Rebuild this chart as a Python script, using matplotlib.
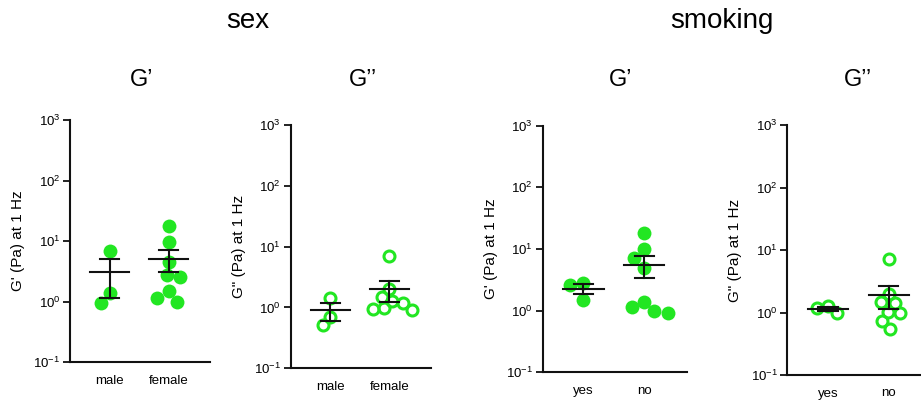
import numpy as np
import matplotlib
matplotlib.use("Agg")
import matplotlib.pyplot as plt
from matplotlib.ticker import FixedLocator, FuncFormatter, NullLocator

plt.rcParams['font.family'] = ['Liberation Sans', 'DejaVu Sans']
plt.rcParams['mathtext.fontset'] = 'custom'
plt.rcParams['mathtext.rm'] = 'Liberation Sans'
plt.rcParams['mathtext.it'] = 'Liberation Sans:italic'
plt.rcParams['mathtext.bf'] = 'Liberation Sans:bold'

# ---- data ----
group_titles = ["sex", "smoking"]
panel_titles = ["G\u2019", "G\u2019\u2019", "G\u2019", "G\u2019\u2019"]
ylabels = ["G' (Pa) at 1 Hz", 'G" (Pa) at 1 Hz', "G' (Pa) at 1 Hz", 'G" (Pa) at 1 Hz']
sex_categories = ["male", "female"]
smoking_categories = ["yes", "no"]
ytick_exponents = [-1, 0, 1, 2, 3]

sex_male_Gp = [0.93, 6.9, 1.4]
sex_female_Gp = [17.9, 9.7, 4.55, 2.74, 2.51, 1.51, 1.0, 1.14]
sex_male_Gpp = [1.45, 0.52, 0.71]
sex_female_Gpp = [7.1, 1.99, 1.47, 1.29, 1.17, 0.97, 0.95, 0.91]
smoke_yes_Gp = [2.8, 1.49, 2.57]
smoke_no_Gp = [18.4, 10.0, 7.1, 4.86, 1.40, 0.93, 1.0, 1.13]
smoke_yes_Gpp = [0.99, 1.27, 1.17]
smoke_no_Gpp = [7.1, 1.95, 1.46, 1.40, 1.02, 0.97, 0.72, 0.54]

panels = [
    (sex_categories, [sex_male_Gp, sex_female_Gp], True),
    (sex_categories, [sex_male_Gpp, sex_female_Gpp], False),
    (smoking_categories, [smoke_yes_Gp, smoke_no_Gp], True),
    (smoking_categories, [smoke_yes_Gpp, smoke_no_Gpp], False),
]

# ---- layout (pixels, top-left origin) ----
W, H = 921, 407
boxes = [(70, 210, 120, 362), (290.7, 430.7, 125, 368.3),
         (542.7, 686.7, 125.7, 372.3), (787.3, 931, 125, 375)]
panel_title_x = [142, 363, 621, 858]
green = '#22e622'
dark = '#111111'

fig = plt.figure(figsize=(W / 100, H / 100), dpi=100)

fig.text(248 / W, 1 - 21 / H, group_titles[0], ha='center', va='center', fontsize=20)
fig.text(722 / W, 1 - 21 / H, group_titles[1], ha='center', va='center', fontsize=20)


def swarm_offsets(ax, center, vals, d_px):
    vals = np.asarray(vals, float)
    pts = ax.transData.transform(np.column_stack([np.full(len(vals), center), vals]))
    ys = pts[:, 1]
    ppu = ax.transData.transform((1, 1))[0] - ax.transData.transform((0, 1))[0]
    order = np.argsort(-ys)
    placed = []  # (x_px, y_px)
    xs = np.zeros(len(vals))
    for i in order:
        y = ys[i]
        cands = [0.0]
        for (xj, yj) in placed:
            dy = abs(y - yj)
            if dy < d_px:
                dx = np.sqrt(d_px ** 2 - dy ** 2)
                cands += [xj - dx, xj + dx]
        cands = sorted(set(cands), key=lambda c: (abs(c), c))
        chosen = cands[-1]
        for c in cands:
            ok = all((c - xj) ** 2 + (y - yj) ** 2 >= d_px ** 2 - 1e-6 for (xj, yj) in placed)
            if ok:
                chosen = c
                break
        placed.append((chosen, y))
        xs[i] = chosen / ppu
    return center + xs


for k, ((cats, groups, filled), (l, r, t, b)) in enumerate(zip(panels, boxes)):
    ax = fig.add_axes([l / W, 1 - b / H, (r - l) / W, (b - t) / H])
    ax.set_yscale('log')
    ax.set_ylim(0.1, 1000)
    ax.set_xlim(-0.671, 1.699)
    for s in ['top', 'right']:
        ax.spines[s].set_visible(False)
    for s in ['left', 'bottom']:
        ax.spines[s].set_linewidth(1.5)
        ax.spines[s].set_color(dark)
    ax.yaxis.set_major_locator(FixedLocator([10.0 ** e for e in ytick_exponents]))
    ax.yaxis.set_minor_locator(NullLocator())
    ax.yaxis.set_major_formatter(FuncFormatter(
        lambda v, p: r'$\mathregular{10^{%d}}$' % int(round(np.log10(v)))))
    ax.tick_params(axis='y', length=5, width=1.3, color=dark, labelsize=9.5, pad=2)
    ax.set_xticks(range(len(cats)))
    ax.set_xticklabels(cats)
    ax.tick_params(axis='x', length=0, labelsize=9.5, pad=9)
    ax.set_ylabel(ylabels[k], fontsize=11)
    ax.yaxis.set_label_coords(-45 / (r - l), 0.5)

    fig.text(panel_title_x[k] / W, 1 - 80 / H, panel_titles[k], ha='center', va='center', fontsize=17)

    for ci, vals in enumerate(groups):
        if filled:
            xs = swarm_offsets(ax, ci, vals, 13.5)
            ax.plot(xs, vals, 'o', ms=10, mfc=green, mec=green, mew=0, zorder=2, clip_on=False)
        else:
            xs = swarm_offsets(ax, ci, vals, 11.0)
            ax.plot(xs, vals, 'o', ms=7.9, mfc='none', mec=green, mew=2.2, zorder=2, clip_on=False)
        v = np.asarray(vals)
        m = v.mean()
        sem = v.std(ddof=1) / np.sqrt(len(v))
        lw = 1.5
        ax.plot([ci - 0.33, ci + 0.33], [m, m], color=dark, lw=lw, zorder=3)
        ax.plot([ci, ci], [m - sem, m + sem], color=dark, lw=lw, zorder=3)
        for yy in (m - sem, m + sem):
            ax.plot([ci - 0.16, ci + 0.16], [yy, yy], color=dark, lw=lw, zorder=3)

fig.savefig('out.png', dpi=100)
